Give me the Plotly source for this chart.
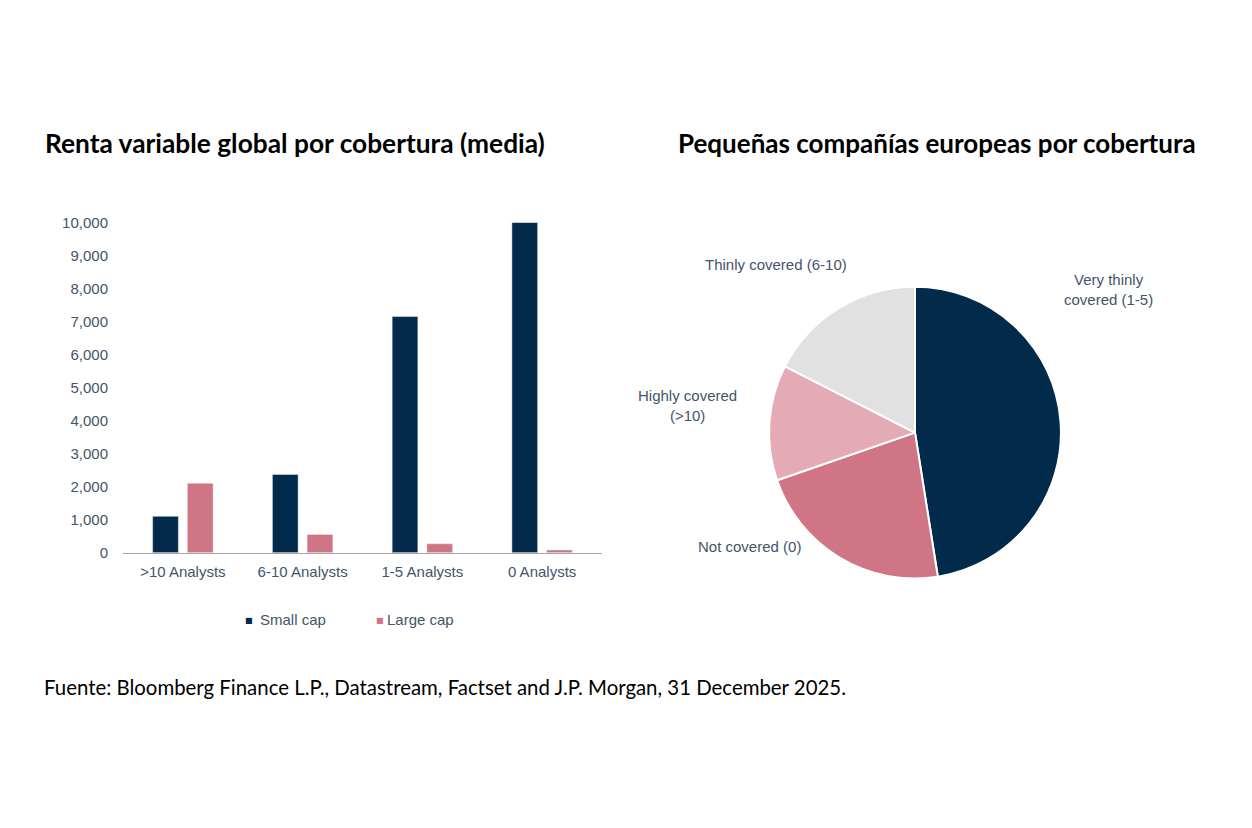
import plotly.graph_objects as go

# Left chart: average number of stocks by analyst coverage
categories = [">10 Analysts", "6-10 Analysts", "1-5 Analysts", "0 Analysts"]
small_cap = [1100, 2370, 7150, 10000]
large_cap = [2100, 550, 270, 80]
y_ticks = [0, 1000, 2000, 3000, 4000, 5000, 6000, 7000, 8000, 9000, 10000]

# Right chart: European small caps by coverage (share, %)
pie_labels = ["Very thinly covered (1-5)", "Not covered (0)",
              "Highly covered (>10)", "Thinly covered (6-10)"]
pie_values = [47.5, 22.2, 12.8, 17.5]

NAVY = "#022a4a"
PINK = "#d07585"
LIGHT_PINK = "#e4abb6"
GREY = "#e1e1e1"
TXT = "#44546a"
W, H = 1252, 828


# the page is shown with the default body margin and squeezed a little in
# height, so convert positions measured on screen into paper coordinates
def px(x):
    return (x - 8) / W


def py(y):
    return 1 - ((y - 16.6) / 0.979) / H


fig = go.Figure()

fig.add_trace(go.Bar(x=categories, y=small_cap, name="Small cap",
                     marker_color=NAVY, showlegend=False))
fig.add_trace(go.Bar(x=categories, y=large_cap, name="Large cap",
                     marker_color=PINK, showlegend=False))

pie_r = 149 / W  # radius in paper-x units (page pixels / width)
pcx, pcy = px(915), (432 - 16.6) / 0.979
fig.add_trace(go.Pie(
    labels=pie_labels, values=pie_values, sort=False, direction="clockwise",
    rotation=0, textinfo="none", hoverinfo="label+percent", showlegend=False,
    marker=dict(colors=[NAVY, PINK, LIGHT_PINK, GREY],
                line=dict(color="white", width=2)),
    domain=dict(x=[pcx - pie_r, pcx + pie_r],
                y=[1 - (pcy + 149) / H, 1 - (pcy - 149) / H]),
))

fig.update_layout(
    width=W, height=H, margin=dict(l=0, r=0, t=0, b=0),
    paper_bgcolor="white", plot_bgcolor="white",
    font=dict(family="Liberation Sans, Arial", size=15, color=TXT),
    barmode="group", bargap=0.42, bargroupgap=0.26,
    showlegend=False,
    xaxis=dict(domain=[px(123), px(602)], showgrid=False, showline=True,
               linecolor="#a6a6a6", linewidth=1, ticks="",
               ticklabelstandoff=5, tickfont=dict(size=15, color=TXT)),
    yaxis=dict(domain=[py(552), py(222)], range=[0, 10000],
               tickvals=y_ticks, tickformat=",", showgrid=False,
               zeroline=False, showline=False, ticklabelstandoff=14,
               tickfont=dict(size=15, color=TXT)),
)

fig.add_annotation(text="Renta variable global por cobertura (media)",
                   x=px(43), y=py(143), xref="paper", yref="paper",
                   xanchor="left", yanchor="middle", showarrow=False,
                   font=dict(family="Lato", size=26.3, color="black",
                             weight="bold"))
fig.add_annotation(text="Pequeñas compañías europeas por cobertura",
                   x=px(1198), y=py(143), xref="paper", yref="paper",
                   xanchor="right", yanchor="middle", showarrow=False,
                   font=dict(family="Lato", size=26.0, color="black",
                             weight="bold"))
fig.add_annotation(text="Fuente: Bloomberg Finance L.P., Datastream, Factset and J.P. Morgan, 31 December 2025.",
                   x=px(42), y=py(686), xref="paper", yref="paper",
                   xanchor="left", yanchor="middle", showarrow=False,
                   font=dict(family="Lato", size=20.4, color="black"))

# legend under the bar chart: small square + label
legend_items = [("Small cap", NAVY, 249, 258), ("Large cap", PINK, 380, 385)]
for nm, c, mx, tx in legend_items:
    fig.add_annotation(text="■", x=px(mx), y=py(620), xref="paper",
                       yref="paper", showarrow=False, xanchor="center",
                       yanchor="middle", font=dict(size=8, color=c,
                                                   family="DejaVu Sans"))
    fig.add_annotation(text=nm, x=px(tx), y=py(619), xref="paper",
                       yref="paper", showarrow=False, xanchor="left",
                       yanchor="middle", font=dict(size=15, color=TXT))

# pie labels placed around the pie
pie_label_pos = [
    ("Very thinly<br>covered (1-5)", 1108, 289),
    ("Not covered (0)", 749, 546),
    ("Highly covered<br>(>10)", 688, 405),
    ("Thinly covered (6-10)", 776, 264),
]
for txt, lx, ly in pie_label_pos:
    fig.add_annotation(text=txt, x=px(lx), y=py(ly), xref="paper",
                       yref="paper", showarrow=False, align="center",
                       xanchor="center", yanchor="middle",
                       font=dict(size=15, color=TXT))

fig.write_html("out.html", config={"displayModeBar": False})
